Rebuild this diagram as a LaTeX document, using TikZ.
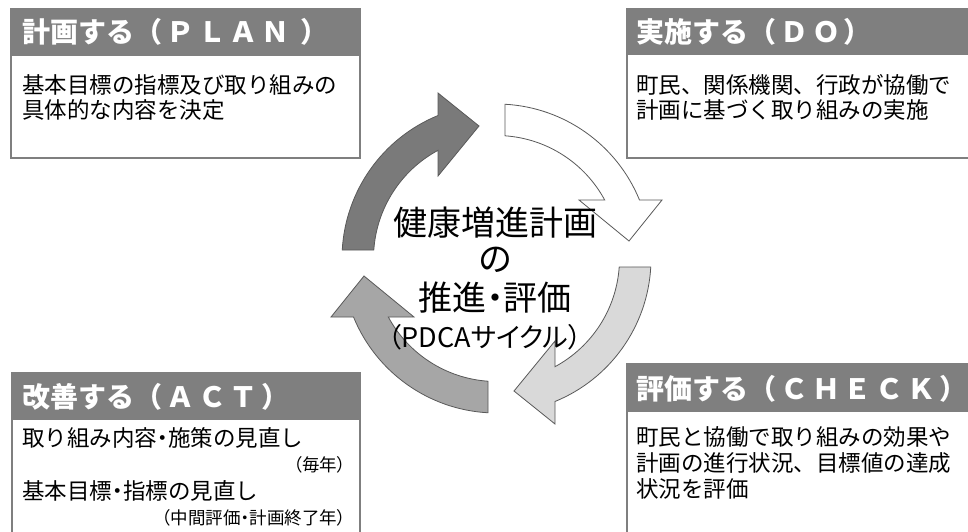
\documentclass[tikz,border=0pt]{standalone}
\usepackage{fontspec}
\newfontfamily\jp{Noto Sans CJK JP}
\newfontfamily\jpp[RawFeature=+palt]{Noto Sans CJK JP}
\newfontfamily\jpw[LetterSpace=14]{Noto Sans CJK JP}
\definecolor{boxgray}{HTML}{7F7F7F}
\definecolor{darkfill}{HTML}{7A7A7A}
\definecolor{midfill}{HTML}{A6A6A6}
\definecolor{lightfill}{HTML}{D9D9D9}
\definecolor{outline}{HTML}{595959}
\newcommand\nd{{\jpp ・}}
\newcommand\wide[1]{{\jpw\bfseries #1}}
\tikzset{
  boxframe/.style={draw=boxgray, line width=2.5pt},
  headerband/.style={fill=boxgray},
  titletext/.style={text=white, font=\jp\bfseries\fontsize{28}{30}\selectfont, anchor=base west, inner sep=0pt},
  bodytext/.style={font=\jp\fontsize{22.5}{25}\selectfont, anchor=base west, inner sep=0pt},
  notetext/.style={font=\jpp\fontsize{17.5}{19}\selectfont, anchor=base east, inner sep=0pt},
  centertext/.style={font=\jpp\fontsize{34}{36}\selectfont, anchor=base, inner sep=0pt},
  arrowline/.style={draw=outline, line width=0.8pt, line join=miter}
}
\begin{document}
\begin{tikzpicture}[x=1pt,y=-1pt]
\useasboundingbox (0,0) rectangle (968,531);
\fill[white] (0,0) rectangle (968,531);

% ---- boxes ----
% PLAN (top left)
\fill[white] (11,9) rectangle (360,158);
\fill[headerband] (11,9) rectangle (360,56);
\draw[boxframe] (11,9) rectangle (360,158);
% DO (top right)
\fill[white] (627,9) rectangle (980,158);
\fill[headerband] (627,9) rectangle (980,55);
\draw[boxframe] (627,9) rectangle (980,158);
% ACT (bottom left)
\fill[white] (12,373) rectangle (360,545);
\fill[headerband] (12,373) rectangle (360,420);
\draw[boxframe] (12,373) rectangle (360,545);
% CHECK (bottom right)
\fill[white] (627,364) rectangle (980,545);
\fill[headerband] (627,364) rectangle (980,412);
\draw[boxframe] (627,364) rectangle (980,545);

% ---- titles ----
\node[titletext] (plantitle) at (22,42) {計画する\wide{（ＰＬＡＮ ）}};
\node[titletext] (dotitle) at (636,42) {実施する\wide{（ＤＯ）}};
\node[titletext] (acttitle) at (22,407) {改善する\wide{（ＡＣＴ）}};
\node[titletext] (checktitle) at (636,399) {評価する\wide{（ＣＨＥＣＫ）}};

% ---- body texts ----
\node[bodytext] (planl1) at (22,93) {基本目標の指標及び取り組みの};
\node[bodytext] (planl2) at (22,118) {具体的な内容を決定};

\node[bodytext] (dol1) at (636,93) {町民、関係機関、行政が協働で};
\node[bodytext] (dol2) at (636,118) {計画に基づく取り組みの実施};

\node[bodytext] (checkl1) at (636,445) {町民と協働で取り組みの効果や};
\node[bodytext] (checkl2) at (636,471) {計画の進行状況、目標値の達成};
\node[bodytext] (checkl3) at (636,497) {状況を評価};

\node[bodytext] (actl1) at (22,446) {取り組み内容\nd 施策の見直し};
\node[notetext] (actn1) at (346,471) {（毎年）};
\node[bodytext] (actl2) at (22,499) {基本目標\nd 指標の見直し};
\node[notetext] (actn2) at (346,524) {（中間評価・計画終了年）};

% ---- cycle arrows (PLAN, DO, CHECK, ACT) ----
\begin{scope}[shift={(496.5,258.5)}]
  \draw[arrowline, fill=darkfill] (183.15:154.5) arc[start angle=183.15, end angle=247.75, radius=154.5]
      -- (-58.5,-165.5) -- (-17.5,-132.5) -- (-58.5,-82.5)
      -- (241.6:123) arc[start angle=241.6, end angle=183.96, radius=123] -- cycle;
\end{scope}
\begin{scope}[shift={(496.5,258.5)}, rotate=-90]
  \draw[arrowline, fill=white] (183.15:154.5) arc[start angle=183.15, end angle=247.75, radius=154.5]
      -- (-58.5,-165.5) -- (-17.5,-132.5) -- (-58.5,-82.5)
      -- (241.6:123) arc[start angle=241.6, end angle=183.96, radius=123] -- cycle;
\end{scope}
\begin{scope}[shift={(496.5,258.5)}, rotate=-180]
  \draw[arrowline, fill=lightfill] (183.15:154.5) arc[start angle=183.15, end angle=247.75, radius=154.5]
      -- (-58.5,-165.5) -- (-17.5,-132.5) -- (-58.5,-82.5)
      -- (241.6:123) arc[start angle=241.6, end angle=183.96, radius=123] -- cycle;
\end{scope}
\begin{scope}[shift={(496.5,258.5)}, rotate=-270]
  \draw[arrowline, fill=midfill] (183.15:154.5) arc[start angle=183.15, end angle=247.75, radius=154.5]
      -- (-58.5,-165.5) -- (-17.5,-132.5) -- (-58.5,-82.5)
      -- (241.6:123) arc[start angle=241.6, end angle=183.96, radius=123] -- cycle;
\end{scope}

% ---- center text ----
\node[centertext] (c1) at (495,235) {健康増進計画};
\node[centertext] (c2) at (495,271) {の};
\node[centertext] (c3) at (495,310) {推進・評価};
\node[centertext, font=\jpp\fontsize{27}{29}\selectfont] (c4) at (485,347) {（PDCAサイクル）};
\end{tikzpicture}
\end{document}
